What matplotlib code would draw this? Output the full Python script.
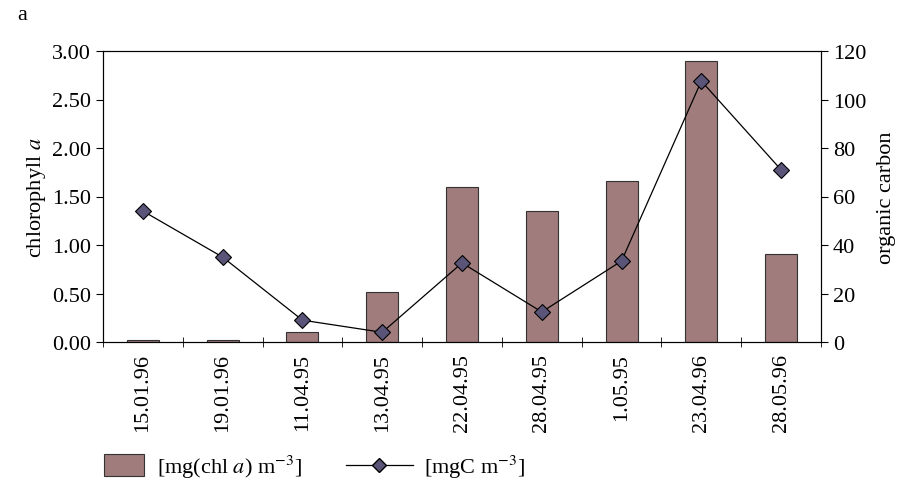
import numpy as np
import matplotlib.pyplot as plt
from matplotlib.lines import Line2D
from matplotlib.patches import Patch

plt.rcParams['font.family'] = ['Liberation Serif', 'DejaVu Serif']
plt.rcParams['mathtext.fontset'] = 'stix'

dates = ['15.01.96', '19.01.96', '11.04.95', '13.04.95', '22.04.95',
         '28.04.95', '1.05.95', '23.04.96', '28.05.96']
chl = [0.02, 0.02, 0.10, 0.52, 1.60, 1.35, 1.66, 2.90, 0.91]
carbon = [54, 35, 9, 4, 32.6, 12.4, 33.4, 107.6, 71]

bar_color = '#a07c7c'
line_color = '#5a5478'

fig = plt.figure(figsize=(9.09, 4.85), dpi=100)
ax = fig.add_axes([103/909, 1 - 343/485, 718/909, 291/485])
x = np.arange(len(dates))
ax.bar(x, chl, 0.4, color=bar_color, edgecolor='#333333', linewidth=0.8)
ax.set_xlim(-0.5, len(dates) - 0.5)
ax.set_ylim(0, 3)
ax.set_yticks(np.arange(0, 3.01, 0.5))
ax.set_yticklabels(['%.2f' % v for v in np.arange(0, 3.01, 0.5)], fontsize=16)
ax.set_xticks(x)
ax.set_xticklabels(dates, rotation=90, fontsize=16)
ax.tick_params(axis='x', length=0, pad=8)
# category separator ticks
ax.set_xticks(np.arange(-0.5, len(dates)), minor=True)
ax.tick_params(axis='x', which='minor', length=7, direction='inout')
ax.tick_params(axis='y', length=5, direction='out')
ax.set_ylabel('chlorophyll $\\mathit{a}$', fontsize=16, labelpad=3)
for s in ['left', 'bottom', 'right', 'top']:
    ax.spines[s].set_color('#222222')

ax2 = ax.twinx()
ax2.plot(x, carbon, color='black', linewidth=0.9, marker='D', markersize=8,
         markerfacecolor=line_color, markeredgecolor='black', markeredgewidth=0.8)
ax2.set_ylim(0, 120)
ax2.set_yticks(range(0, 121, 20))
ax2.tick_params(axis='y', length=5, direction='out', labelsize=16)
ax2.set_ylabel('organic carbon', fontsize=16, labelpad=8)

fig.text(17/909, 1 - 16/485, 'a', fontsize=16, va='center', ha='left')

fig.legend([Patch(facecolor=bar_color, edgecolor='#333333', linewidth=0.8)],
           ['[mg(chl $\\mathit{a}$) m$^{-3}$]'], loc='center left',
           bbox_to_anchor=(84/909, 1 - 467/485), frameon=False, fontsize=16,
           handlelength=1.8, handleheight=1.2, handletextpad=0.6)
fig.legend([Line2D([0], [0], color='black', linewidth=0.9, marker='D', markersize=7,
                   markerfacecolor=line_color, markeredgecolor='black')],
           ['[mgC m$^{-3}$]'], loc='center left',
           bbox_to_anchor=(326/909, 1 - 467/485), frameon=False, fontsize=16,
           handlelength=3.0, handletextpad=0.5)

fig.savefig('out.png', dpi=100)
